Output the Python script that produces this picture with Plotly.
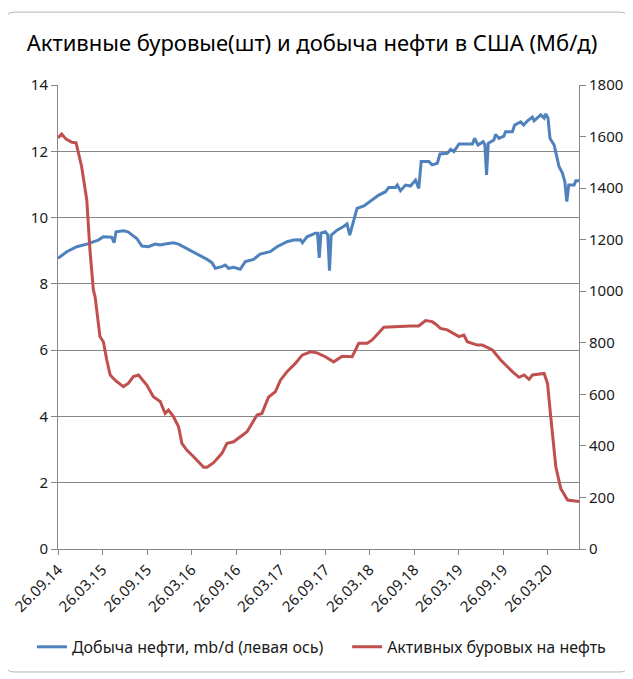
import plotly.graph_objects as go

# weekly US crude production, mb/d (left axis)
prod_dates = [
    "2014-09-26", "2014-11-01", "2014-12-12", "2015-01-22", "2015-03-10", "2015-03-31",
    "2015-05-04", "2015-05-14", "2015-05-22", "2015-06-21", "2015-07-10", "2015-07-26",
    "2015-08-15", "2015-09-05", "2015-10-02", "2015-10-29", "2015-11-19", "2015-12-09",
    "2016-01-12", "2016-02-02", "2016-03-07", "2016-04-18", "2016-05-29", "2016-06-18",
    "2016-07-02", "2016-07-29", "2016-08-12", "2016-08-25", "2016-09-15", "2016-10-12",
    "2016-11-02", "2016-12-06", "2017-01-02", "2017-02-12", "2017-03-12", "2017-04-22",
    "2017-05-19", "2017-06-16", "2017-06-24", "2017-07-13", "2017-08-16", "2017-08-25",
    "2017-09-01", "2017-09-08", "2017-09-26", "2017-10-06", "2017-10-13", "2017-10-20",
    "2017-11-13", "2017-12-10", "2017-12-24", "2018-01-04", "2018-01-20", "2018-02-03",
    "2018-03-03", "2018-04-06", "2018-05-03", "2018-05-31", "2018-06-13", "2018-07-11",
    "2018-07-18", "2018-07-31", "2018-08-21", "2018-09-10", "2018-10-01", "2018-10-14",
    "2018-10-24", "2018-11-24", "2018-12-08", "2018-12-29", "2019-01-09", "2019-02-08",
    "2019-02-22", "2019-03-07", "2019-03-28", "2019-05-22", "2019-05-31", "2019-06-14",
    "2019-07-05", "2019-07-12", "2019-07-19", "2019-07-26", "2019-08-18", "2019-08-25",
    "2019-09-08", "2019-09-28", "2019-10-05", "2019-11-02", "2019-11-11", "2019-12-06",
    "2019-12-18", "2020-01-03", "2020-01-23", "2020-01-30", "2020-02-13", "2020-02-26",
    "2020-03-11", "2020-03-18", "2020-03-27", "2020-04-04", "2020-04-21", "2020-05-05",
    "2020-05-11", "2020-05-25", "2020-06-04", "2020-06-12", "2020-06-20", "2020-07-12",
    "2020-07-19", "2020-08-01",
]
prod_mbd = [
    8.77, 8.97, 9.12, 9.20, 9.32, 9.42,
    9.41, 9.24, 9.57, 9.60, 9.57, 9.47,
    9.37, 9.14, 9.12, 9.20, 9.17, 9.20,
    9.24, 9.20, 9.07, 8.92, 8.74, 8.64,
    8.47, 8.52, 8.57, 8.47, 8.50, 8.44,
    8.67, 8.74, 8.90, 8.97, 9.12, 9.27,
    9.32, 9.33, 9.24, 9.42, 9.53, 9.53,
    8.78, 9.53, 9.57, 9.48, 8.40, 9.47,
    9.62, 9.73, 9.81, 9.47, 9.93, 10.28,
    10.35, 10.53, 10.68, 10.78, 10.91, 10.91,
    10.98, 10.81, 10.98, 10.95, 11.13, 10.88,
    11.69, 11.69, 11.59, 11.64, 11.92, 11.94,
    12.06, 11.99, 12.22, 12.22, 12.39, 12.19,
    12.29, 12.20, 11.29, 12.24, 12.34, 12.51,
    12.39, 12.46, 12.59, 12.59, 12.79, 12.89,
    12.79, 12.92, 13.03, 12.92, 13.03, 13.10,
    13.00, 13.13, 13.00, 12.39, 12.19, 11.74,
    11.54, 11.34, 11.08, 10.48, 10.98, 10.98,
    11.11, 11.11,
]

# active oil rigs (right axis)
rig_dates = [
    "2014-09-26", "2014-10-11", "2014-10-29", "2014-11-22", "2014-12-09", "2014-12-18",
    "2015-01-01", "2015-01-22", "2015-02-04", "2015-02-18", "2015-02-25", "2015-03-17",
    "2015-03-31", "2015-04-14", "2015-04-28", "2015-05-18", "2015-06-21", "2015-07-12",
    "2015-08-01", "2015-08-22", "2015-09-25", "2015-10-22", "2015-11-19", "2015-12-09",
    "2015-12-23", "2016-01-12", "2016-02-02", "2016-02-16", "2016-03-07", "2016-04-04",
    "2016-05-15", "2016-05-29", "2016-06-25", "2016-07-29", "2016-08-19", "2016-09-15",
    "2016-10-12", "2016-11-09", "2016-11-22", "2016-12-20", "2017-01-09", "2017-02-05",
    "2017-03-05", "2017-03-26", "2017-04-22", "2017-05-26", "2017-06-23", "2017-07-27",
    "2017-08-23", "2017-09-26", "2017-10-30", "2017-12-04", "2018-01-14", "2018-02-10",
    "2018-03-17", "2018-04-06", "2018-05-24", "2018-06-27", "2018-07-31", "2018-09-10",
    "2018-10-14", "2018-11-11", "2018-12-08", "2018-12-22", "2019-01-11", "2019-02-08",
    "2019-03-28", "2019-04-17", "2019-05-01", "2019-06-11", "2019-07-02", "2019-08-12",
    "2019-09-15", "2019-10-12", "2019-11-02", "2019-11-29", "2019-12-20", "2020-01-09",
    "2020-01-23", "2020-03-11", "2020-03-25", "2020-04-07", "2020-04-28", "2020-05-18",
    "2020-06-15", "2020-08-01",
]
rigs = [
    1594, 1610, 1590, 1578, 1576, 1535,
    1483, 1354, 1160, 1005, 979, 824,
    804, 733, 675, 655, 630, 643,
    669, 675, 636, 591, 572, 526,
    539, 514, 475, 410, 384, 358,
    317, 317, 335, 371, 410, 416,
    436, 455, 475, 520, 526, 589,
    610, 655, 688, 720, 752, 765,
    761, 746, 726, 748, 746, 798,
    798, 811, 860, 862, 862, 865,
    865, 886, 882, 873, 856, 850,
    824, 830, 804, 791, 791, 772,
    733, 707, 688, 666, 675, 658,
    675, 681, 642, 514, 319, 235,
    190, 184,
]

tick_dates = ["2014-09-26", "2015-03-26", "2015-09-26", "2016-03-26", "2016-09-26", "2017-03-26",
              "2017-09-26", "2018-03-26", "2018-09-26", "2019-03-26", "2019-09-26", "2020-03-26"]
tick_labels = ["26.09.14", "26.03.15", "26.09.15", "26.03.16", "26.09.16", "26.03.17",
               "26.09.17", "26.03.18", "26.09.18", "26.03.19", "26.09.19", "26.03.20"]

FONT = "Noto Sans"
GRID = "#878787"

fig = go.Figure()
fig.add_trace(go.Scatter(
    x=prod_dates, y=prod_mbd, mode="lines", name="Добыча нефти, mb/d (левая ось)",
    line=dict(color="#4F81BD", width=3), legend="legend", showlegend=True
))
fig.add_trace(go.Scatter(
    x=rig_dates, y=rigs, mode="lines", name="Активных буровых на нефть", yaxis="y2",
    line=dict(color="#C0504D", width=3), legend="legend2", showlegend=True
))

# rounded chart border (Excel chart area)
rx, ry = 0.0154, 0.0172
x0, x1, y0, y1 = -0.1, 1.094, -0.265, 1.157
border = (f"M {x0+rx},{y0} L {x1-rx},{y0} Q {x1},{y0} {x1},{y0+ry} "
          f"L {x1},{y1-ry} Q {x1},{y1} {x1-rx},{y1} L {x0+rx},{y1} "
          f"Q {x0},{y1} {x0},{y1-ry} L {x0},{y0+ry} Q {x0},{y0} {x0+rx},{y0} Z")

leg_style = dict(orientation="h", y=-0.211, yanchor="middle", xanchor="left",
                 font=dict(size=16, color="#1a1a1a"), itemwidth=30,
                 bgcolor="rgba(0,0,0,0)", visible=True)

fig.update_layout(
    width=625, height=671,
    margin=dict(l=50, r=54, t=77, b=130),
    paper_bgcolor="white", plot_bgcolor="white",
    showlegend=True,
    font=dict(family=FONT, size=13, color="#1a1a1a"),
    title=dict(text="Активные буровые(шт) и добыча нефти в США (Мб/д)",
               x=0.4864, xanchor="center", y=0.948, yanchor="middle",
               font=dict(family=FONT, size=22, color="black")),
    xaxis=dict(
        type="date", range=["2014-09-26", "2020-08-01"], automargin=False,
        tickvals=tick_dates, ticktext=tick_labels, tickangle=-45,
        showgrid=False, showline=True, linecolor=GRID, linewidth=1,
        ticks="outside", ticklen=5, tickcolor=GRID, zeroline=False,
        tickfont=dict(size=15),
    ),
    yaxis=dict(
        range=[0, 14], dtick=2, showgrid=True, gridcolor=GRID, gridwidth=1,
        showline=True, linecolor=GRID, ticks="outside", ticklen=6, tickcolor=GRID,
        zeroline=False, tickfont=dict(size=15), automargin=False,
    ),
    yaxis2=dict(
        range=[0, 1800], dtick=200, overlaying="y", side="right", showgrid=False,
        showline=True, linecolor=GRID, ticks="outside", ticklen=6, tickcolor=GRID,
        zeroline=False, tickfont=dict(size=15), automargin=False,
    ),
    legend=dict(x=-0.05, **leg_style),
    legend2=dict(x=0.555, **leg_style),
    shapes=[dict(type="path", path=border, xref="paper", yref="paper",
                 line=dict(color="#B5B5B5", width=1), layer="below")],
)

fig.write_html("out.html")
